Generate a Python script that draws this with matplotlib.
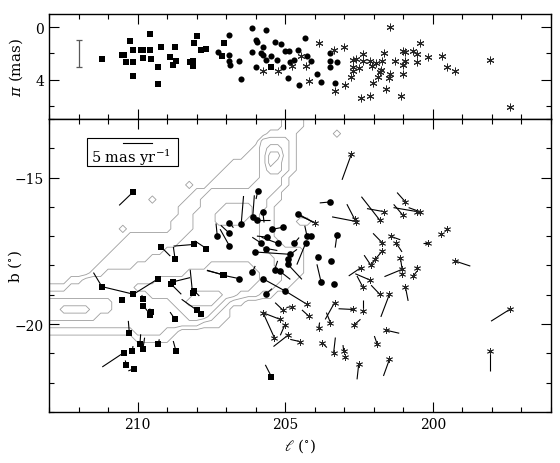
import numpy as np
import matplotlib
matplotlib.use("Agg")
import matplotlib.pyplot as plt
from matplotlib.collections import LineCollection
from matplotlib.patches import Rectangle
import matplotlib.transforms as mtransforms
from matplotlib.ticker import MultipleLocator

plt.rcParams['font.family'] = ['DejaVu Serif']
plt.rcParams['mathtext.fontset'] = 'dejavuserif'

# ---------------- top panel: parallax vs l ----------------
sq_top_l = [211.19, 210.52, 210.45, 210.25, 210.16, 210.39, 210.16, 210.14, 209.89, 209.80, 209.80,
            209.58, 209.58, 209.54, 209.30, 209.30, 209.21, 208.90, 208.73, 208.70, 208.81, 208.22,
            208.13, 208.11, 208.08, 208.00, 207.85, 207.67, 207.09, 207.14, 205.47]
sq_top_p = [2.42, 2.09, 2.12, 1.02, 1.73, 2.67, 2.63, 3.74, 1.73, 1.73, 2.37, 0.51, 1.73, 2.42, 3.01,
            4.33, 1.48, 2.29, 1.53, 2.55, 2.88, 2.63, 2.93, 2.55, 1.22, 0.64, 1.73, 1.66, 1.22, 2.21, 3.05]

ci_top_l = [207.28, 206.90, 206.89, 206.92, 206.86, 206.58, 206.49, 206.11, 205.99, 205.94, 206.11,
            205.99, 205.82, 205.74, 205.65, 205.74, 205.65, 205.48, 205.36, 205.28, 205.15, 205.00,
            204.87, 204.57, 204.32, 204.26, 204.72, 204.83, 205.06, 204.92, 204.55, 204.12, 203.91,
            203.78, 203.47, 203.47, 203.25, 203.47, 203.33]
ci_top_p = [1.91, 0.59, 2.09, 2.55, 2.86, 2.55, 3.95, 0.08, 0.95, 1.15, 1.91, 3.05, 1.96, 1.53, 0.21,
            2.09, 2.50, 2.17, 1.15, 2.47, 1.28, 1.83, 1.79, 1.73, 0.84, 2.21, 2.50, 2.67, 3.05, 3.89,
            4.38, 2.60, 3.57, 4.15, 1.99, 2.60, 2.67, 3.05, 4.25]

as_top_l = [205.74, 205.23, 204.77, 204.47, 204.29, 204.21, 203.87, 203.36, 203.02, 203.33, 202.97,
            202.76, 202.70, 202.59, 202.70, 202.70, 202.51, 202.42, 202.36, 202.35, 202.12, 202.06,
            202.12, 202.03, 201.92, 201.86, 201.80, 201.75, 201.72, 201.64, 201.58, 201.47, 201.44,
            201.44, 201.27, 201.08, 201.01, 201.01, 201.01, 200.93, 200.93, 200.67, 200.54, 200.54,
            200.45, 200.16, 199.69, 199.52, 199.24, 198.08, 197.40]
as_top_p = [3.34, 3.31, 2.93, 2.21, 2.93, 4.08, 1.20, 1.71, 1.53, 4.84, 4.41, 3.82, 2.50, 2.42, 3.05,
            3.31, 3.13, 5.40, 2.04, 2.55, 2.55, 2.93, 5.27, 4.25, 2.73, 3.77, 3.44, 3.26, 2.55, 1.96,
            4.71, 3.87, 3.57, 0.00, 2.55, 5.27, 2.88, 3.57, 1.83, 1.86, 2.55, 1.83, 2.04, 2.63, 1.20,
            2.29, 2.21, 3.05, 3.36, 2.50, 6.06]

errbar_l = 212.0
errbar_p = 2.0
errbar_err = 1.05

# ---------------- bottom panel: positions and proper motions ----------------
sq_l = [210.14, 209.20, 208.73, 208.08, 207.67, 207.09, 211.21, 210.54, 210.14, 209.30, 209.80,
        209.80, 209.55, 209.59, 208.86, 208.81, 208.14, 208.08, 208.00, 207.85, 208.73, 210.28,
        209.92, 209.82, 209.30, 208.70, 210.46, 210.18, 210.39, 210.12, 205.47, 207.11]
sq_b = [-15.48, -17.37, -17.79, -17.28, -17.42, -18.33, -18.72, -19.18, -18.98, -18.45, -19.13,
        -19.38, -19.57, -19.70, -18.64, -18.56, -18.93, -18.87, -19.52, -19.64, -19.84, -20.29,
        -20.69, -20.84, -20.69, -20.92, -20.97, -20.92, -21.40, -21.52, -21.79, -18.31]
sq_pml = [2.42, -1.53, 0.29, 3.51, 1.98, 2.81, 1.42, 0.20, 5.36, 4.24, 0.30, -1.19, 0.20, 0.34,
          -1.70, -2.93, 0.39, -0.85, 2.54, 0.20, 0.85, 0.17, -0.12, -0.29, -0.17, 0.46, 3.68,
          -0.12, 0.12, 0.97, 1.02, 2.71]
sq_pmb = [-2.34, -1.54, 2.10, -0.29, 1.30, 0.85, 2.39, -0.30, 1.30, -2.68, 0.60, -1.54, 0.50, 0.68,
          -1.71, 0.73, 3.92, -0.85, 1.83, 0.30, 1.25, 2.00, 1.71, 1.88, 0.85, 1.71, -2.46, 0.85,
          0.80, -0.39, 2.00, 0.68]

ci_l = [205.93, 206.49, 206.10, 205.97, 205.76, 206.89, 206.89, 207.30, 206.89, 205.46, 205.06,
        205.62, 205.26, 205.81, 205.64, 206.01, 204.83, 204.91, 204.91, 204.57, 204.26, 204.12,
        204.30, 204.69, 203.90, 203.79, 203.47, 203.25, 203.45, 203.34, 206.11, 205.36, 205.19,
        206.55, 205.76, 205.00, 205.64]
ci_b = [-15.46, -16.57, -16.33, -16.46, -16.17, -16.54, -16.90, -17.01, -17.33, -16.77, -16.69,
        -17.03, -17.24, -17.24, -17.42, -17.54, -17.62, -17.79, -17.96, -16.23, -17.01, -17.01,
        -17.22, -17.24, -17.70, -18.55, -15.83, -16.97, -17.85, -18.64, -18.22, -18.15, -18.19,
        -18.45, -18.45, -18.87, -18.96]
ci_pml = [0.29, -0.39, -0.27, -2.32, -0.22, -0.68, 1.46, 0.22, 1.58, -1.70, 0.20, 1.70, 2.71, 1.53,
          -1.86, -5.88, -1.14, 0.20, -2.37, -2.64, 0.39, 0.10, 1.53, -0.80, 0.20, 0.68, 1.81, 0.29,
          0.10, 0.10, -0.46, -0.51, -1.81, 2.66, -3.78, -3.68, -0.97]
ci_pmb = [-1.36, 4.71, 3.63, 0.00, -1.81, -0.85, 1.36, 2.22, 2.85, 0.34, 0.20, 0.17, 1.02, 1.02,
          -0.34, -0.39, 0.85, 0.20, -2.56, -1.54, 1.83, 0.20, -3.75, 0.97, 0.30, 2.95, -0.17, -2.10,
          0.10, 0.10, 1.02, 1.54, -1.42, 0.56, -2.10, -2.27, 0.85]

as_l = [202.76, 200.93, 201.67, 201.80, 202.59, 202.65, 201.01, 200.54, 200.45, 201.72, 201.41,
        201.24, 200.18, 199.71, 199.52, 199.24, 201.72, 202.10, 201.10, 201.95, 202.43, 202.12,
        202.38, 201.80, 201.04, 201.04, 200.54, 200.67, 200.93, 201.47, 203.33, 203.47, 202.72,
        202.35, 202.68, 201.58, 201.89, 203.76, 203.36, 203.02, 202.97, 202.51, 201.47, 197.40,
        198.08, 203.98, 204.26, 205.08, 204.77, 205.76, 205.17, 204.21, 205.02, 205.37, 204.91,
        204.49, 203.87]
as_b = [-14.20, -15.83, -16.16, -16.45, -16.50, -16.42, -16.29, -16.16, -16.16, -17.22, -17.01,
        -17.24, -17.22, -16.94, -16.77, -17.85, -17.51, -17.99, -17.73, -17.79, -18.07, -18.50,
        -18.72, -18.98, -18.13, -18.28, -18.07, -18.36, -18.73, -18.98, -19.27, -19.95, -19.50,
        -19.55, -20.04, -20.21, -20.67, -20.63, -20.97, -20.92, -21.11, -21.35, -21.20, -19.50,
        -20.92, -16.54, -19.32, -19.52, -19.40, -19.61, -19.84, -19.72, -20.04, -20.46, -20.38,
        -20.60, -20.15]
as_pml = [1.58, 1.41, 2.81, 3.10, 4.12, 1.31, 1.59, 3.97, 1.86, 1.53, -1.53, -0.97, 0.85, 0.20,
          0.34, -2.54, 1.42, 1.14, -0.29, 0.85, 2.10, 2.54, 0.95, 1.46, 3.00, 0.10, 0.10, -0.68,
          -0.46, 1.46, 1.58, 0.68, 2.37, 0.00, -1.14, -2.20, 0.46, -0.85, -0.29, 0.12, 0.10, 0.29,
          1.02, 3.15, 0.00, 2.54, 0.10, 1.31, 0.95, 0.10, 2.93, 1.12, 0.73, 1.92, 2.44, 1.70, -0.17]
as_pmb = [-4.38, 1.60, 0.51, 3.99, 0.80, 2.56, 1.88, 0.68, 0.68, 1.59, -0.56, -1.48, 0.00, 0.00,
          -0.34, -0.85, -1.71, 1.71, -2.00, -1.14, -1.43, 1.09, 1.81, 1.54, -1.25, 0.10, 0.10, 0.85,
          -2.39, -3.87, -2.85, 1.71, 0.12, 1.88, 1.02, -0.51, 1.31, -0.85, 2.56, 1.02, 0.10, -2.68,
          -2.85, -2.00, -3.41, 1.13, 0.10, 1.26, -0.17, 0.10, 1.14, 1.02, -1.71, 4.27, -1.93, 0.39,
          1.02]

pm_legend = 5.0          # mas/yr
pm_scale = 0.2           # degrees per mas/yr on the map

# ---------------- extinction contours (levels read on a 0.25 deg grid) ----------------
grid_l0, grid_b0, grid_step = 213.0, -13.0, 0.25
grid_rows, grid_cols = 35, 41
# (row, level, first column, last column)
contour_runs = [
    (0, 1, 32, 34), (1, 1, 32, 34), (2, 1, 30, 33), (3, 1, 29, 33), (4, 1, 28, 33), (5, 1, 27, 33),
    (6, 1, 25, 33), (7, 1, 24, 33), (8, 1, 23, 32), (9, 1, 22, 32), (10, 1, 20, 31), (11, 1, 19, 31),
    (12, 1, 18, 30), (13, 1, 18, 30), (14, 1, 17, 30), (15, 1, 17, 30), (16, 1, 11, 30),
    (17, 1, 10, 31), (18, 1, 9, 34), (19, 1, 8, 34), (20, 1, 7, 34), (21, 1, 6, 34), (22, 1, 3, 33),
    (23, 1, 0, 32), (24, 1, 0, 30), (25, 1, 0, 26), (26, 1, 0, 24), (27, 1, 0, 24), (28, 1, 0, 23),
    (29, 1, 0, 17), (30, 1, 12, 16),
    (11, 1, 14, 14), (14, 1, 34, 35), (2, 1, 39, 39), (15, 1, 10, 10), (9, 1, 19, 19),
    (3, 2, 29, 32), (4, 2, 29, 32), (5, 2, 29, 32), (6, 2, 29, 32), (7, 2, 29, 32), (8, 2, 29, 31),
    (9, 2, 28, 31), (10, 2, 22, 30), (11, 2, 21, 29), (12, 2, 21, 29), (13, 2, 20, 28),
    (14, 2, 20, 28), (15, 2, 20, 28), (16, 2, 19, 28), (17, 2, 18, 28), (18, 2, 16, 29),
    (19, 2, 14, 30), (20, 2, 12, 30), (21, 2, 8, 31), (22, 2, 5, 31), (23, 2, 3, 30),
    (24, 2, 0, 28), (25, 2, 0, 24), (26, 2, 0, 23), (27, 2, 0, 22), (28, 2, 0, 20), (29, 2, 12, 15),
    (4, 3, 30, 31), (5, 3, 30, 31), (6, 3, 30, 31), (7, 3, 30, 31), (12, 3, 24, 27),
    (13, 3, 23, 27), (14, 3, 23, 26), (20, 3, 22, 27), (21, 3, 19, 28), (22, 3, 15, 28),
    (23, 3, 12, 27), (24, 3, 14, 25), (25, 3, 0, 8), (25, 3, 17, 23), (26, 3, 0, 8),
    (26, 3, 18, 22), (27, 3, 0, 6), (27, 3, 19, 21),
    (5, 4, 30, 31), (6, 4, 30, 30), (24, 4, 20, 23), (25, 4, 19, 22), (26, 4, 2, 5),
]
contour_levels = [0.5, 1.5, 2.5, 3.5]

# ---------------- figure ----------------
fig = plt.figure(figsize=(5.6, 4.64), dpi=100)
ax1 = fig.add_axes([49 / 560, 344 / 464, 502 / 560, 105 / 464])
ax2 = fig.add_axes([49 / 560, 51 / 464, 502 / 560, 293 / 464])

for ax in (ax1, ax2):
    ax.set_xlim(213, 196)
    ax.xaxis.set_major_locator(MultipleLocator(5))
    ax.xaxis.set_minor_locator(MultipleLocator(1))
    ax.tick_params(which='both', direction='in', top=True, right=True, labelsize=10)
    ax.tick_params(which='major', length=7, width=0.8)
    ax.tick_params(which='minor', length=3.5, width=0.8)
    for s in ax.spines.values():
        s.set_linewidth(1.0)

# top panel
ax1.set_ylim(7, -1)
ax1.yaxis.set_major_locator(MultipleLocator(4))
ax1.yaxis.set_minor_locator(MultipleLocator(2))
ax1.tick_params(labelbottom=False)
ax1.plot(sq_top_l, sq_top_p, 's', color='black', ms=3.8, mew=0)
ax1.plot(ci_top_l, ci_top_p, 'o', color='black', ms=4.4, mew=0)
ax1.plot(as_top_l, as_top_p, ls='none', marker=(6, 2, 0), color='0.15', ms=5.5, mew=0.7)
ax1.errorbar([errbar_l], [errbar_p], yerr=[errbar_err], fmt='none', ecolor='0.35',
             elinewidth=0.9, capsize=2.5, capthick=0.9)
ax1.set_ylabel(r'$\pi$ (mas)', fontsize=11)
ax1.yaxis.set_label_coords(-0.048, 0.5)

# bottom panel
ax2.set_ylim(-23, -13)
ax2.yaxis.set_major_locator(MultipleLocator(5))
ax2.yaxis.set_minor_locator(MultipleLocator(1))

grid = np.zeros((grid_rows, grid_cols))
for r, lev, a, b in contour_runs:
    grid[r, a:b + 1] = np.maximum(grid[r, a:b + 1], lev)
gl = grid_l0 - grid_step * np.arange(grid_cols)
gb = grid_b0 - grid_step * np.arange(grid_rows)
ax2.contour(gl, gb, grid, levels=contour_levels, colors='0.62', linewidths=0.6)

def vectors(l, b, pml, pmb):
    l = np.asarray(l); b = np.asarray(b)
    l2 = l + pm_scale * np.asarray(pml)
    b2 = b + pm_scale * np.asarray(pmb)
    return [[(x0, y0), (x1, y1)] for x0, y0, x1, y1 in zip(l, b, l2, b2)]

for L, B, PL, PB in ((sq_l, sq_b, sq_pml, sq_pmb), (ci_l, ci_b, ci_pml, ci_pmb),
                     (as_l, as_b, as_pml, as_pmb)):
    ax2.add_collection(LineCollection(vectors(L, B, PL, PB), colors='black', linewidths=0.8))

ax2.plot(sq_l, sq_b, 's', color='black', ms=4.2, mew=0)
ax2.plot(ci_l, ci_b, 'o', color='black', ms=4.8, mew=0)
ax2.plot(as_l, as_b, ls='none', marker=(6, 2, 0), color='0.15', ms=5.0, mew=0.6)

# legend box for the proper-motion scale
ax2.add_patch(Rectangle((0.076, 0.841), 0.180, 0.093, transform=ax2.transAxes,
                        fill=False, edgecolor='black', lw=0.8))
trans = mtransforms.blended_transform_factory(ax2.transData, ax2.transAxes)
bar_c = 210.0
ax2.plot([bar_c + pm_scale * pm_legend / 2, bar_c - pm_scale * pm_legend / 2], [0.917, 0.917],
         color='black', lw=0.8, transform=trans)
ax2.text(0.164, 0.872, r'5 mas yr$^{-1}$', transform=ax2.transAxes, ha='center', va='center',
         fontsize=10.5)

ax2.set_ylabel(r'b ($^{\circ}$)', fontsize=11)
ax2.yaxis.set_label_coords(-0.05, 0.5)
ax2.set_xlabel(r'$\ell$ ($^{\circ}$)', fontsize=11, labelpad=4)

fig.savefig('out.png', dpi=100)
